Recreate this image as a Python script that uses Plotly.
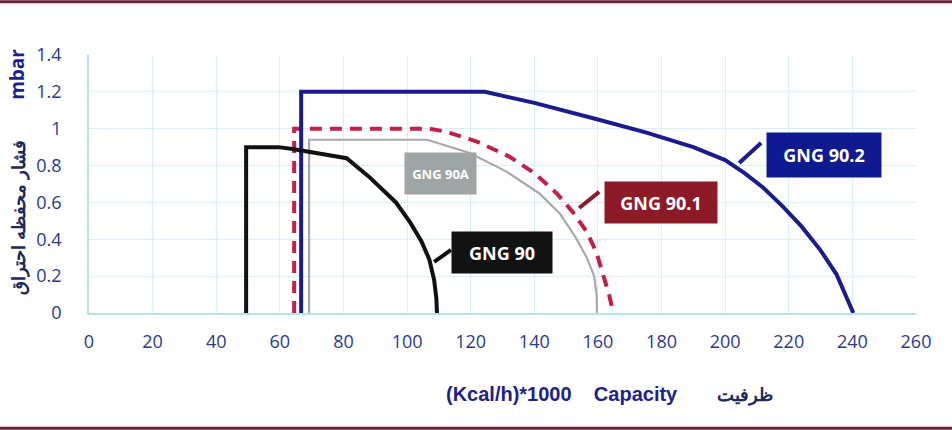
import plotly.graph_objects as go

# ---------------- data ----------------
gng90_x = [49.4, 49.4, 59.5, 64, 81, 88, 96.5, 101, 104.5, 107, 108.5, 109.2, 109.4]
gng90_y = [0, 0.9, 0.9, 0.89, 0.84, 0.74, 0.6, 0.49, 0.39, 0.29, 0.18, 0.08, 0]

gng90a_x = [69.2, 69.2, 106.3, 119.5, 131, 141.5, 148, 153, 156.5, 158.8, 159.6, 159.7]
gng90a_y = [0, 0.94, 0.94, 0.87, 0.77, 0.65, 0.54, 0.41, 0.3, 0.2, 0.1, 0]

gng901_x = [64.5, 64.5, 107, 112, 122, 132, 140, 147, 152, 156.5, 159.5, 161.5, 163.5, 164.8]
gng901_y = [0, 1.0, 1.0, 0.985, 0.93, 0.85, 0.76, 0.65, 0.55, 0.44, 0.33, 0.22, 0.1, 0]

gng902_x = [66.7, 66.7, 124.5, 140, 160, 175, 190, 200, 206, 212, 218, 224, 230, 235, 240.3]
gng902_y = [0, 1.2, 1.2, 1.14, 1.05, 0.98, 0.9, 0.83, 0.76, 0.68, 0.58, 0.47, 0.34, 0.21, 0]

x_ticks = list(range(0, 261, 20))
y_ticks = [0, 0.2, 0.4, 0.6, 0.8, 1, 1.2, 1.4]
y_tick_labels = ["0", "0.2", "0.4", "0.6", "0.8", "1", "1.2", "1.4"]

series_names = ["GNG 90", "GNG 90A", "GNG 90.1", "GNG 90.2"]

NAVY = "#2a3a8e"
DARKNAVY = "#1c2a5c"

fig = go.Figure()

fig.add_trace(go.Scatter(x=gng90a_x, y=gng90a_y, mode="lines", name=series_names[1],
                         line=dict(color="#a9a9a9", width=2.2)))
fig.add_trace(go.Scatter(x=gng901_x, y=gng901_y, mode="lines", name=series_names[2],
                         line=dict(color="#c21f4b", width=4, dash="12px,8px")))
fig.add_trace(go.Scatter(x=gng902_x, y=gng902_y, mode="lines", name=series_names[3],
                         line=dict(color="#1b1b8c", width=4)))
fig.add_trace(go.Scatter(x=gng90_x, y=gng90_y, mode="lines", name=series_names[0],
                         line=dict(color="#111111", width=4)))

# label connectors
connectors = [
    ([108.5, 113.8], [0.277, 0.342], "#111111"),
    ([154.1, 160.4], [0.570, 0.657], "#8c1b27"),
    ([204.4, 211.3], [0.814, 0.922], "#1b1b8c"),
]
for cx, cy, cc in connectors:
    fig.add_trace(go.Scatter(x=cx, y=cy, mode="lines", showlegend=False,
                             line=dict(color=cc, width=4), hoverinfo="skip"))

# label boxes
boxes = [
    (series_names[1], 110.5, 0.757, 71, 41, "#9fa5a5", 13),
    (series_names[0], 129.9, 0.328, 100, 41, "#121212", 18),
    (series_names[2], 179.9, 0.600, 112, 41, "#8c1b27", 18),
    (series_names[3], 231.1, 0.857, 114, 44, "#0f1a90", 18),
]
for txt, bx, by, bw, bh, bc, fs in boxes:
    fig.add_annotation(x=bx, y=by, xref="x", yref="y", text="<b>%s</b>" % txt,
                       showarrow=False, bgcolor=bc, width=bw, height=bh, borderpad=0,
                       font=dict(family="Open Sans", size=fs, color="white"),
                       xanchor="center", yanchor="middle")

# axis titles
fig.add_annotation(x=-0.087, y=1.03, xref="paper", yref="paper", text="<b>mbar</b>",
                   textangle=-90, showarrow=False, xanchor="center", yanchor="top",
                   font=dict(family="Open Sans", size=19, color="#1d1f8c"))
fig.add_annotation(x=-0.087, y=0.37, xref="paper", yref="paper", text="<b>فشار محفظه احتراق</b>",
                   textangle=-90, showarrow=False, xanchor="center", yanchor="middle",
                   font=dict(family="Noto Sans", size=18, color=DARKNAVY))
fig.add_annotation(x=0.715, y=-0.315, xref="paper", yref="paper",
                   text="<b>(Kcal/h)*1000</b>    <b>Capacity</b>",
                   showarrow=False, xanchor="right", yanchor="middle",
                   font=dict(family="Liberation Sans", size=20, color="#1d1f8c"))
fig.add_annotation(x=0.793, y=-0.315, xref="paper", yref="paper", text="<b>ظرفیت</b>",
                   showarrow=False, xanchor="center", yanchor="middle",
                   font=dict(family="Noto Sans", size=18, color=DARKNAVY))

# top and bottom border lines
for yy in [1.206, -0.447]:
    fig.add_shape(type="line", xref="paper", yref="paper", x0=-0.12, x1=1.06, y0=yy, y1=yy,
                  line=dict(color="#6e1f38", width=3))

fig.update_xaxes(range=[0, 260], tickvals=x_ticks, ticks="", showgrid=True,
                 gridcolor="#d7f0f4", gridwidth=1, zeroline=False,
                 showline=True, linecolor="#b5e2ea", linewidth=1.5,
                 ticklabelstandoff=12, automargin=False,
                 tickfont=dict(family="Open Sans", size=18, color=NAVY))
fig.update_yaxes(range=[0, 1.4], tickvals=y_ticks, ticktext=y_tick_labels, ticks="",
                 showgrid=True, gridcolor="#d7f0f4", gridwidth=1, zeroline=False,
                 showline=True, linecolor="#b5e2ea", linewidth=1.5,
                 ticklabelstandoff=22, automargin=False,
                 tickfont=dict(family="Open Sans", size=18, color=NAVY))

fig.update_layout(width=952, height=430, showlegend=False,
                  margin=dict(l=89, r=36, t=55, b=117),
                  plot_bgcolor="white", paper_bgcolor="white")

fig.write_html("out.html", config={"displayModeBar": False},
               post_script="document.body.style.margin='0';")
